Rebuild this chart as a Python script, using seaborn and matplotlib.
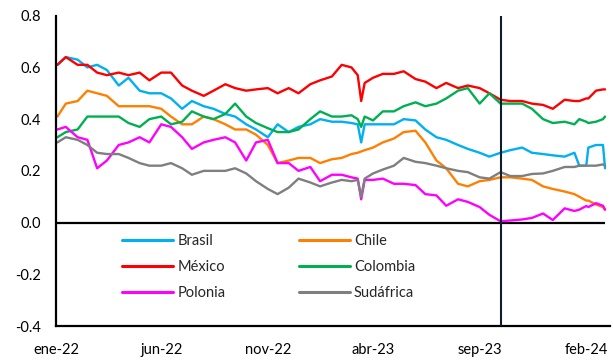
import matplotlib
matplotlib.use("Agg")
import matplotlib.pyplot as plt
import seaborn as sns
import pandas as pd

dates = ["2022-01-03", "2022-01-15", "2022-02-01", "2022-02-15", "2022-03-01", "2022-03-15",
         "2022-04-01", "2022-04-15", "2022-05-01", "2022-05-15", "2022-06-01", "2022-06-15",
         "2022-07-01", "2022-07-15", "2022-08-01", "2022-08-15", "2022-09-01", "2022-09-15",
         "2022-10-01", "2022-10-15", "2022-11-01", "2022-11-15", "2022-12-01", "2022-12-15",
         "2023-01-01", "2023-01-15", "2023-02-01", "2023-02-15", "2023-03-01", "2023-03-10",
         "2023-03-15", "2023-03-20", "2023-04-01", "2023-04-15", "2023-05-01", "2023-05-15",
         "2023-06-01", "2023-06-15", "2023-07-01", "2023-07-15", "2023-08-01", "2023-08-15",
         "2023-09-01", "2023-09-15", "2023-10-01", "2023-10-15", "2023-11-01", "2023-11-15",
         "2023-12-01", "2023-12-15", "2024-01-01", "2024-01-15", "2024-01-22", "2024-02-01",
         "2024-02-04", "2024-02-15", "2024-02-25", "2024-02-28"]

brasil = [0.61, 0.64, 0.63, 0.60, 0.61, 0.59, 0.53, 0.56, 0.51, 0.50, 0.50, 0.48,
          0.44, 0.47, 0.45, 0.44, 0.42, 0.41, 0.38, 0.36, 0.33, 0.38, 0.35, 0.37,
          0.38, 0.40, 0.39, 0.39, 0.385, 0.38, 0.31, 0.38, 0.38, 0.38, 0.38, 0.40,
          0.395, 0.36, 0.33, 0.32, 0.30, 0.285, 0.27, 0.255, 0.27, 0.28, 0.29, 0.27,
          0.265, 0.26, 0.255, 0.27, 0.22, 0.22, 0.29, 0.30, 0.30, 0.21]

chile = [0.41, 0.46, 0.47, 0.51, 0.50, 0.49, 0.45, 0.45, 0.45, 0.45, 0.44, 0.41,
         0.38, 0.38, 0.41, 0.40, 0.38, 0.36, 0.36, 0.34, 0.30, 0.23, 0.24, 0.25,
         0.25, 0.23, 0.245, 0.25, 0.265, 0.27, 0.275, 0.28, 0.29, 0.31, 0.325, 0.35,
         0.355, 0.31, 0.24, 0.21, 0.15, 0.14, 0.16, 0.165, 0.175, 0.175, 0.17, 0.165,
         0.14, 0.13, 0.12, 0.11, 0.10, 0.085, 0.085, 0.07, 0.06, 0.05]

mexico = [0.61, 0.64, 0.61, 0.61, 0.58, 0.57, 0.58, 0.57, 0.58, 0.55, 0.58, 0.58,
          0.53, 0.51, 0.49, 0.51, 0.535, 0.52, 0.51, 0.515, 0.52, 0.50, 0.52, 0.50,
          0.535, 0.55, 0.565, 0.61, 0.60, 0.57, 0.47, 0.54, 0.56, 0.575, 0.575, 0.585,
          0.555, 0.545, 0.52, 0.54, 0.52, 0.53, 0.52, 0.50, 0.475, 0.47, 0.47, 0.46,
          0.455, 0.44, 0.475, 0.47, 0.47, 0.48, 0.48, 0.51, 0.515, 0.515]

colombia = [0.33, 0.35, 0.36, 0.41, 0.41, 0.41, 0.41, 0.385, 0.37, 0.40, 0.41, 0.38,
            0.39, 0.43, 0.41, 0.40, 0.42, 0.46, 0.41, 0.385, 0.365, 0.35, 0.35, 0.36,
            0.40, 0.43, 0.41, 0.41, 0.415, 0.40, 0.37, 0.41, 0.395, 0.43, 0.43, 0.45,
            0.465, 0.45, 0.46, 0.48, 0.51, 0.52, 0.46, 0.50, 0.46, 0.46, 0.46, 0.44,
            0.40, 0.385, 0.39, 0.38, 0.40, 0.39, 0.385, 0.39, 0.40, 0.41]

polonia = [0.36, 0.37, 0.33, 0.32, 0.21, 0.24, 0.30, 0.31, 0.33, 0.31, 0.38, 0.37,
           0.33, 0.285, 0.31, 0.32, 0.33, 0.31, 0.24, 0.31, 0.32, 0.23, 0.23, 0.20,
           0.215, 0.16, 0.185, 0.185, 0.175, 0.17, 0.09, 0.165, 0.165, 0.17, 0.15, 0.15,
           0.145, 0.11, 0.105, 0.065, 0.09, 0.08, 0.06, 0.03, 0.005, 0.008, 0.012, 0.018,
           0.035, 0.01, 0.055, 0.045, 0.05, 0.064, 0.06, 0.075, 0.065, 0.05]

sudafrica = [0.31, 0.33, 0.32, 0.30, 0.27, 0.265, 0.265, 0.25, 0.23, 0.22, 0.22, 0.23,
             0.21, 0.185, 0.20, 0.20, 0.20, 0.21, 0.19, 0.16, 0.13, 0.11, 0.135, 0.17,
             0.155, 0.14, 0.155, 0.165, 0.16, 0.165, 0.10, 0.17, 0.19, 0.205, 0.22, 0.25,
             0.235, 0.23, 0.22, 0.21, 0.20, 0.195, 0.175, 0.17, 0.195, 0.18, 0.18, 0.188,
             0.19, 0.20, 0.215, 0.215, 0.22, 0.22, 0.22, 0.22, 0.225, 0.22]

series_names = ["Brasil", "Chile", "México", "Colombia", "Polonia", "Sudáfrica"]
series_values = [brasil, chile, mexico, colombia, polonia, sudafrica]
colors = ["#00B0F0", "#FF8000", "#FF0000", "#00B050", "#FF00FF", "#7F7F7F"]
legend_order = ["Brasil", "México", "Polonia", "Chile", "Colombia", "Sudáfrica"]

tick_dates = ["2022-01-01", "2022-06-01", "2022-11-01", "2023-04-01", "2023-09-01", "2024-02-01"]
tick_labels = ["ene-22", "jun-22", "nov-22", "abr-23", "sep-23", "feb-24"]
yticks = [-0.4, -0.2, 0.0, 0.2, 0.4, 0.6, 0.8]
x_start, x_end = "2022-01-01", "2024-03-06"
marker_date = "2023-10-01"

sns.set_style("white")
plt.rcParams["font.family"] = ["Lato", "DejaVu Sans"]

frames = []
for name, vals in zip(series_names, series_values):
    frames.append(pd.DataFrame({"Fecha": pd.to_datetime(dates), "Valor": vals, "País": name}))
df = pd.concat(frames, ignore_index=True)

fig = plt.figure(figsize=(6.13, 3.6), dpi=100)
ax = fig.add_axes([0.0914, 0.0944, 0.9036, 0.862])

sns.lineplot(data=df, x="Fecha", y="Valor", hue="País", hue_order=series_names,
             palette=colors, linewidth=1.7, ax=ax)

ax.hlines(0, pd.Timestamp(x_start), pd.Timestamp(dates[-1]), color="black", linewidth=1.6, zorder=1)
ax.axvline(pd.Timestamp(marker_date), color="#101c2c", linewidth=1.5, zorder=5)

ax.set_xlim(pd.Timestamp(x_start), pd.Timestamp(x_end))
ax.set_ylim(yticks[0], yticks[-1])
ax.set_yticks(yticks)
ax.set_yticklabels([f"{v:.1f}" for v in yticks])
ax.set_xticks(pd.to_datetime(tick_dates))
ax.set_xticklabels(tick_labels)
ax.set_xlabel("")
ax.set_ylabel("")

for s in ["top", "right"]:
    ax.spines[s].set_visible(False)
for s in ["left", "bottom"]:
    ax.spines[s].set_color("black")
    ax.spines[s].set_linewidth(1.6)

ax.tick_params(axis="both", which="major", direction="out", length=4, width=1.4,
               color="black", labelsize=10.5, labelcolor="black")
ax.tick_params(axis="y", pad=7)
ax.tick_params(axis="x", pad=8)

handles, labels = ax.get_legend_handles_labels()
hmap = dict(zip(labels, handles))
leg = ax.legend([hmap[n] for n in legend_order], legend_order, ncol=2, loc="center",
                bbox_to_anchor=(0.384, 0.19), frameon=False, fontsize=10.5,
                handlelength=3.5, handletextpad=0.3, columnspacing=5.0, labelspacing=0.8)
for line in leg.get_lines():
    line.set_linewidth(2.2)

fig.savefig("out.png", dpi=100)
